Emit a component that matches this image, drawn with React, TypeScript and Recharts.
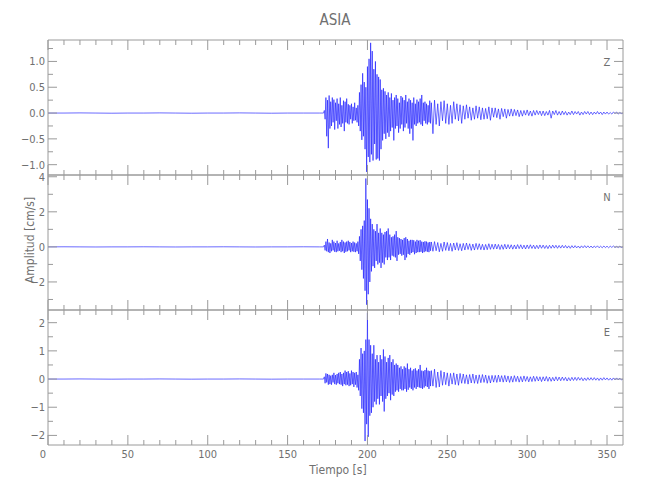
import React from 'react';
import { LineChart, Line, XAxis, YAxis } from 'recharts';

// Sampling of the three traces: quiet pre-event part, event burst, coda
const quietTimes = [0, 10, 20, 30, 40, 50, 60, 70, 80, 90, 100, 110, 120, 130, 140, 150, 160, 170];
const BURST_T0 = 172.5;
const BURST_DT = 0.5;
const CODA_T0 = 240;
const CODA_DT = 1;

// Componente Z [cm/s]
const zQuiet = [0, 0, 0.003, 0, -0.003, 0, 0, 0.003, 0, -0.003, 0, 0, 0.003, 0, -0.003, 0, 0, 0];
const zBurst = [
  0.0, 0.05, -0.12, 0.3, -0.45, 0.25, -0.68, 0.34, -0.3, 0.22,
  -0.25, 0.3, -0.18, 0.26, -0.32, 0.2, -0.15, 0.28, -0.3, 0.18,
  -0.22, 0.3, -0.27, 0.15, -0.2, 0.24, -0.35, 0.22, -0.18, 0.28,
  -0.2, 0.17, -0.22, 0.15, -0.12, 0.18, -0.2, 0.12, -0.15, 0.2,
  -0.14, 0.1, -0.18, 0.15, -0.25, 0.4, -0.35, 0.55, -0.52, 0.77,
  -0.45, 0.6, -0.7, 0.5, -1.14, 0.9, -0.85, 1.05, -0.95, 1.36,
  -0.8, 1.2, -0.92, 0.85, -0.6, 1.0, -0.9, 0.75, -0.88, 0.7,
  -0.92, 0.65, -0.7, 0.45, -0.53, 0.48, -0.4, 0.42, -0.5, 0.35,
  -0.38, 0.4, -0.46, 0.3, -0.35, 0.38, -0.28, 0.25, -0.53, 0.3,
  -0.3, 0.35, -0.25, 0.28, -0.38, 0.2, -0.3, 0.33, -0.22, 0.3,
  -0.35, 0.25, -0.28, 0.35, -0.2, 0.22, -0.3, 0.28, -0.4, 0.25,
  -0.3, 0.2, -0.53, 0.3, -0.22, 0.18, -0.25, 0.26, -0.2, 0.22,
  -0.18, 0.28, -0.22, 0.35, -0.25, 0.2, -0.15, 0.22, -0.2, 0.18,
  -0.22, 0.15, -0.18, 0.24, -0.2,
];
const zCoda = [
  0.2, -0.4, 0.25, -0.22, 0.18, -0.25, 0.22, -0.15, 0.24, -0.2,
  0.18, -0.22, 0.15, -0.2, 0.22, -0.12, 0.18, -0.15, 0.16, -0.2,
  0.14, -0.12, 0.16, -0.1, 0.12, -0.14, 0.1, -0.12, 0.14, -0.1,
  0.12, -0.13, 0.1, -0.12, 0.09, -0.11, 0.12, -0.14, 0.1, -0.08,
  0.1, -0.09, 0.08, -0.12, 0.09, -0.07, 0.08, -0.1, 0.07, -0.06,
  0.08, -0.06, 0.07, -0.05, 0.06, -0.07, 0.05, -0.06, 0.05, -0.04,
  0.06, -0.05, 0.04, -0.06, 0.05, -0.04, 0.05, -0.03, 0.04, -0.05,
  0.04, -0.05, 0.03, -0.04, 0.05, -0.1, 0.04, -0.03, 0.05, -0.04,
  0.03, -0.04, 0.04, -0.03, 0.03, -0.04, 0.02, -0.03, 0.04, -0.03,
  0.03, -0.02, 0.03, -0.04, 0.02, -0.03, 0.03, -0.02, 0.03, -0.03,
  0.02, -0.03, 0.02, -0.02, 0.03, -0.02, 0.02, -0.03, 0.02, -0.02,
  0.02, -0.02, 0.01, -0.02, 0.02, -0.01, 0.02, -0.02, 0.01, -0.01,
  0.0,
];

// Componente N [cm/s]
const nQuiet = [0, 0.005, 0, -0.005, 0, 0, 0.005, 0, -0.005, 0, 0, 0.005, 0, -0.005, 0, 0, 0.005, 0];
const nBurst = [
  0.0, 0.1, -0.2, 0.3, -0.25, 0.45, -0.3, 0.25, -0.35, 0.2,
  -0.25, 0.4, -0.2, 0.3, -0.28, 0.22, -0.3, 0.35, -0.25, 0.2,
  -0.22, 0.28, -0.3, 0.4, -0.25, 0.3, -0.35, 0.25, -0.28, 0.3,
  -0.25, 0.35, -0.2, 0.28, -0.3, 0.22, -0.25, 0.3, -0.28, 0.25,
  -0.3, 0.2, -0.25, 0.3, -0.4, 0.6, -0.8, 1.0, -1.3, 1.2,
  -1.8, 1.5, -2.5, 3.9, -3.3, 2.7, -2.7, 2.2, -2.0, 1.6,
  -1.4, 1.3, -1.1, 1.0, -1.2, 0.9, -0.8, 1.3, -1.0, 0.8,
  -0.9, 1.05, -1.2, 0.8, -0.9, 0.7, -1.0, 0.85, -0.6, 0.9,
  -0.75, 1.05, -0.6, 0.7, -0.75, 0.55, -0.5, 0.6, -0.55, 0.7,
  -0.6, 0.9, -0.8, 0.55, -0.45, 0.5, -0.4, 0.45, -0.5, 0.4,
  -0.45, 0.5, -0.75, 0.55, -0.6, 0.45, -0.4, 0.35, -0.45, 0.4,
  -0.35, 0.4, -0.3, 0.38, -0.42, 0.3, -0.35, 0.4, -0.3, 0.35,
  -0.3, 0.38, -0.28, 0.3, -0.35, 0.28, -0.3, 0.32, -0.25, 0.3,
  -0.28, 0.25, -0.3, 0.28, -0.22,
];
const nCoda = [
  0.28, -0.25, 0.3, -0.22, 0.25, -0.28, 0.2, -0.25, 0.28, -0.2,
  0.25, -0.22, 0.2, -0.25, 0.22, -0.18, 0.24, -0.2, 0.18, -0.22,
  0.2, -0.18, 0.22, -0.15, 0.18, -0.2, 0.16, -0.18, 0.2, -0.15,
  0.18, -0.16, 0.15, -0.18, 0.14, -0.16, 0.18, -0.14, 0.15, -0.13,
  0.16, -0.12, 0.14, -0.15, 0.12, -0.14, 0.15, -0.12, 0.13, -0.11,
  0.12, -0.13, 0.11, -0.12, 0.13, -0.1, 0.12, -0.11, 0.1, -0.12,
  0.11, -0.1, 0.12, -0.09, 0.1, -0.11, 0.09, -0.1, 0.11, -0.08,
  0.1, -0.09, 0.08, -0.1, 0.09, -0.08, 0.1, -0.07, 0.09, -0.08,
  0.08, -0.07, 0.09, -0.06, 0.08, -0.07, 0.06, -0.08, 0.07, -0.06,
  0.07, -0.06, 0.05, -0.07, 0.06, -0.05, 0.07, -0.05, 0.06, -0.05,
  0.05, -0.06, 0.05, -0.04, 0.06, -0.05, 0.04, -0.05, 0.05, -0.04,
  0.04, -0.05, 0.04, -0.03, 0.05, -0.04, 0.03, -0.04, 0.04, -0.03,
  0.0,
];

// Componente E [cm/s]
const eQuiet = [0, 0, 0.004, 0, -0.004, 0, 0, 0.004, 0, -0.004, 0, 0, 0.004, 0, -0.004, 0, 0, 0];
const eBurst = [
  0.0, 0.08, -0.15, 0.2, -0.12, 0.18, -0.2, 0.15, -0.18, 0.12,
  -0.2, 0.15, -0.12, 0.22, -0.18, 0.14, -0.2, 0.18, -0.15, 0.22,
  -0.18, 0.25, -0.2, 0.18, -0.25, 0.22, -0.18, 0.3, -0.22, 0.25,
  -0.2, 0.28, -0.25, 0.2, -0.22, 0.3, -0.18, 0.25, -0.28, 0.22,
  -0.2, 0.25, -0.3, 0.15, -0.4, 0.7, -0.6, 1.1, -1.05, 0.9,
  -1.2, 1.0, -2.2, 1.4, -1.6, 2.35, -2.05, 1.4, -1.3, 1.2,
  -1.2, 0.9, -1.0, 1.2, -0.8, 0.7, -0.9, 0.85, -0.7, 0.6,
  -0.9, 0.85, -0.6, 0.7, -0.8, 1.05, -1.15, 0.8, -0.7, 0.6,
  -0.6, 0.75, -0.5, 0.85, -0.75, 0.6, -0.55, 0.7, -0.6, 0.5,
  -0.45, 0.55, -0.4, 0.5, -0.45, 0.4, -0.35, 0.45, -0.4, 0.35,
  -0.4, 0.45, -0.35, 0.4, -0.45, 0.55, -0.38, 0.35, -0.3, 0.4,
  -0.35, 0.3, -0.4, 0.35, -0.3, 0.38, -0.35, 0.3, -0.28, 0.35,
  -0.3, 0.5, -0.32, 0.3, -0.35, 0.28, -0.3, 0.32, -0.25, 0.4,
  -0.28, 0.3, -0.35, 0.28, -0.25,
];
const eCoda = [
  0.3, -0.25, 0.35, -0.3, 0.25, -0.28, 0.3, -0.22, 0.25, -0.2,
  0.22, -0.25, 0.2, -0.18, 0.22, -0.2, 0.18, -0.22, 0.2, -0.15,
  0.18, -0.16, 0.15, -0.18, 0.16, -0.14, 0.18, -0.15, 0.14, -0.16,
  0.15, -0.13, 0.16, -0.12, 0.14, -0.15, 0.12, -0.14, 0.13, -0.11,
  0.13, -0.12, 0.14, -0.1, 0.12, -0.11, 0.13, -0.1, 0.11, -0.12,
  0.1, -0.11, 0.12, -0.09, 0.1, -0.11, 0.09, -0.1, 0.11, -0.08,
  0.09, -0.1, 0.08, -0.09, 0.1, -0.08, 0.09, -0.07, 0.08, -0.09,
  0.08, -0.07, 0.09, -0.08, 0.07, -0.08, 0.06, -0.07, 0.08, -0.06,
  0.07, -0.06, 0.07, -0.05, 0.06, -0.07, 0.05, -0.06, 0.06, -0.05,
  0.06, -0.05, 0.06, -0.04, 0.05, -0.06, 0.04, -0.05, 0.05, -0.04,
  0.05, -0.04, 0.05, -0.04, 0.04, -0.05, 0.04, -0.04, 0.05, -0.03,
  0.04, -0.04, 0.03, -0.04, 0.04, -0.03, 0.04, -0.03, 0.03, -0.03,
  0.0,
];

// Axis ticks
const xTicks = [0, 10, 20, 30, 40, 50, 60, 70, 80, 90, 100, 110, 120, 130, 140, 150, 160, 170, 180,
  190, 200, 210, 220, 230, 240, 250, 260, 270, 280, 290, 300, 310, 320, 330, 340, 350];
const xMajor = [0, 50, 100, 150, 200, 250, 300, 350];
const zTicks = [-1, -0.75, -0.5, -0.25, 0, 0.25, 0.5, 0.75, 1, 1.25];
const zMajor = [-1, -0.5, 0, 0.5, 1];
const nTicks = [-3, -2, -1, 0, 1, 2, 3, 4];
const nMajor = [-2, 0, 2, 4];
const eTicks = [-2, -1.5, -1, -0.5, 0, 0.5, 1, 1.5, 2];
const eMajor = [-2, -1, 0, 1, 2];

const FONT = "'Liberation Sans Narrow', 'DejaVu Sans Condensed', 'Liberation Sans', sans-serif";
const AXIS = '#9a9a9a';
const TEXT = '#707070';
const TRACE = '#1a1aff';

const PANEL_TOP = [40, 175, 310];
const PANEL_H = 135;
const PLOT_LEFT = 48;
const PLOT_RIGHT = 623;

const buildTrace = (quiet: number[], burst: number[], coda: number[]) => [
  ...quiet.map((v, i) => ({ t: quietTimes[i], v })),
  ...burst.map((v, i) => ({ t: BURST_T0 + i * BURST_DT, v })),
  ...coda.map((v, i) => ({ t: CODA_T0 + i * CODA_DT, v })),
];

const minus = (s: string) => s.replace('-', '\u2212');

const panels = [
  { name: 'Z', data: buildTrace(zQuiet, zBurst, zCoda), domain: [-1.2, 1.415], ticks: zTicks, major: zMajor, fmt: (v: number) => minus(v.toFixed(1)) },
  { name: 'N', data: buildTrace(nQuiet, nBurst, nCoda), domain: [-3.6, 4.1], ticks: nTicks, major: nMajor, fmt: (v: number) => minus(String(v)) },
  { name: 'E', data: buildTrace(eQuiet, eBurst, eCoda), domain: [-2.34, 2.45], ticks: eTicks, major: eMajor, fmt: (v: number) => minus(String(v)) },
];

const Panel = ({ p, top, showX }: { p: any; top: number; showX: boolean }) => {
  const bottomTick = (props: any) => {
    const { x, y, payload } = props;
    const major = xMajor.includes(payload.value);
    return (
      <g>
        <line x1={x} x2={x} y1={y} y2={y - (major ? 10 : 5)} stroke={AXIS} />
        {showX && major && (
          <text x={payload.value === 0 ? x - 5 : x} y={y + 13} textAnchor="middle" fontSize={11} fill={TEXT} fontFamily={FONT}>
            {payload.value}
          </text>
        )}
      </g>
    );
  };
  const topTick = (props: any) => {
    const { x, y, payload } = props;
    const major = xMajor.includes(payload.value);
    return <line x1={x} x2={x} y1={y} y2={y + (major ? 10 : 5)} stroke={AXIS} />;
  };
  const leftTick = (props: any) => {
    const { x, y, payload } = props;
    const major = p.major.includes(payload.value);
    return (
      <g>
        <line x1={x} x2={x + (major ? 9 : 5)} y1={y} y2={y} stroke={AXIS} />
        {major && (
          <text x={x - 3} y={y + 4} textAnchor="end" fontSize={11} fill={TEXT} fontFamily={FONT}>
            {p.fmt(payload.value)}
          </text>
        )}
      </g>
    );
  };
  const rightTick = (props: any) => {
    const { x, y, payload } = props;
    const major = p.major.includes(payload.value);
    return <line x1={x} x2={x - (major ? 9 : 5)} y1={y} y2={y} stroke={AXIS} />;
  };

  return (
    <div style={{ position: 'absolute', left: 0, top: 0 }}>
      <LineChart
        width={650}
        height={500}
        data={p.data}
        margin={{ top: top - 10, bottom: 500 - top - PANEL_H - 10, left: 0, right: 0 }}
      >
        <XAxis xAxisId="b" dataKey="t" type="number" domain={[0, 360]} allowDataOverflow ticks={xTicks}
          interval={0} height={10} tickSize={0} tickMargin={0} tickLine={false}
          axisLine={{ stroke: AXIS }} tick={bottomTick} />
        <XAxis xAxisId="t" orientation="top" dataKey="t" type="number" domain={[0, 360]} allowDataOverflow
          ticks={xTicks} interval={0} height={10} tickSize={0} tickMargin={0} tickLine={false}
          axisLine={{ stroke: AXIS }} tick={topTick} />
        <YAxis yAxisId="l" type="number" domain={p.domain} allowDataOverflow ticks={p.ticks} interval={0}
          width={PLOT_LEFT} tickSize={0} tickMargin={0} tickLine={false} axisLine={{ stroke: AXIS }} tick={leftTick} />
        <YAxis yAxisId="r" orientation="right" type="number" domain={p.domain} allowDataOverflow ticks={p.ticks}
          interval={0} width={650 - PLOT_RIGHT} tickSize={0} tickMargin={0} tickLine={false}
          axisLine={{ stroke: AXIS }} tick={rightTick} />
        <Line xAxisId="t" yAxisId="r" dataKey="v" stroke="none" dot={false} isAnimationActive={false} />
        <Line xAxisId="b" yAxisId="l" dataKey="v" stroke={TRACE} strokeWidth={0.65} dot={false}
          isAnimationActive={false} />
      </LineChart>
    </div>
  );
};

export default function App() {
  return (
    <div style={{ position: 'absolute', left: 0, top: 0, width: 650, height: 500, background: '#fff' }}>
      {panels.map((p, i) => (
        <Panel key={p.name} p={p} top={PANEL_TOP[i]} showX={i === panels.length - 1} />
      ))}
      <svg width={650} height={500} style={{ position: 'absolute', left: 0, top: 0, pointerEvents: 'none' }}>
        <text x={335} y={25} textAnchor="middle" fontSize={15} fill={TEXT} fontFamily={FONT}>ASIA</text>
        {panels.map((p, i) => (
          <text key={p.name} x={607} y={PANEL_TOP[i] + 26} textAnchor="middle" fontSize={11} fill={TEXT} fontFamily={FONT}>
            {p.name}
          </text>
        ))}
        <text x={338} y={474} textAnchor="middle" fontSize={12} fill={TEXT} fontFamily={FONT}>Tiempo  [s]</text>
        <text x={0} y={0} transform="translate(34 240) rotate(-90)" textAnchor="middle" fontSize={12} fill={TEXT}
          fontFamily={FONT}>Amplitud  [cm/s]</text>
      </svg>
    </div>
  );
}
